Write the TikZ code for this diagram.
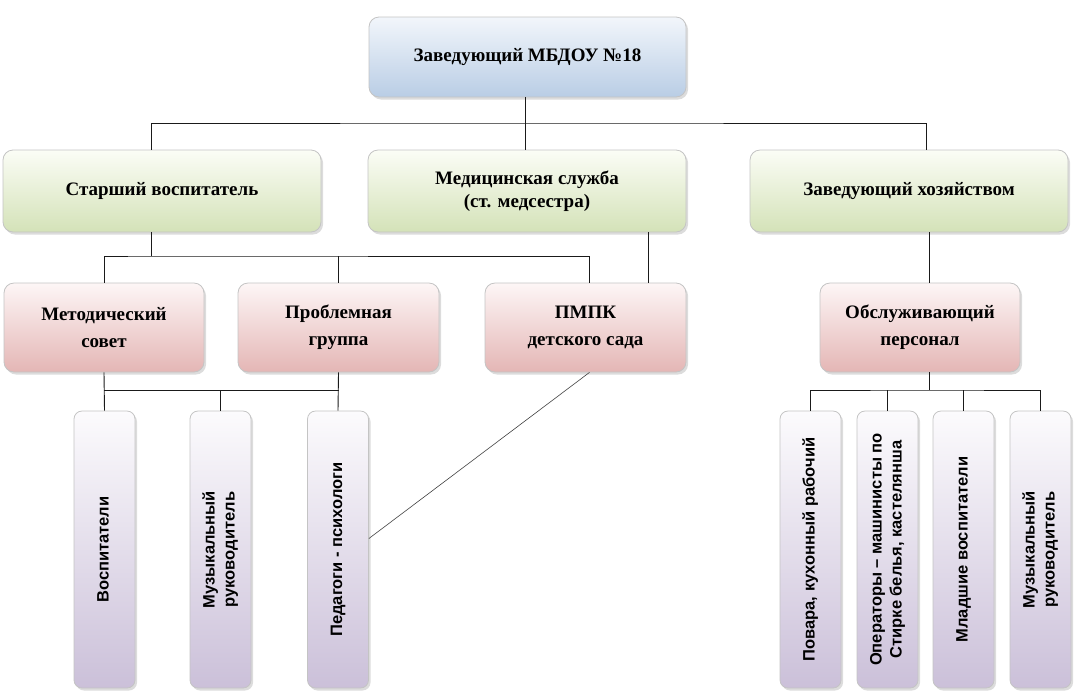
\documentclass[tikz,border=0pt]{standalone}
\usepackage{fontspec}
\setmainfont{Liberation Serif}
\newfontfamily\arialfont{Liberation Sans}
\usetikzlibrary{shadows,calc}
\definecolor{bluetop}{HTML}{F2F6FB}
\definecolor{bluebot}{HTML}{B9CDE5}
\definecolor{greentop}{HTML}{FBFDF6}
\definecolor{greenbot}{HTML}{D4E2B8}
\definecolor{pinktop}{HTML}{FDF6F6}
\definecolor{pinkbot}{HTML}{E4B6B5}
\definecolor{purptop}{HTML}{FCFBFD}
\definecolor{purpbot}{HTML}{CBC0D9}
\definecolor{boxline}{HTML}{C4C4C4}
\definecolor{conn}{HTML}{1A1A1A}
\tikzset{
  basebox/.style={draw=boxline, line width=0.8pt, rounded corners=10pt, inner sep=0pt,
    align=center, font=\fontsize{19}{27}\selectfont\bfseries,
    drop shadow={shadow xshift=2pt, shadow yshift=-2.5pt, fill=black!30, opacity=0.45}},
  bluebox/.style={basebox, top color=bluetop, bottom color=bluebot},
  greenbox/.style={basebox, top color=greentop, bottom color=greenbot},
  pinkbox/.style={basebox, top color=pinktop, bottom color=pinkbot},
  vbox/.style={basebox, top color=purptop, bottom color=purpbot, rounded corners=8pt,
    minimum width=61pt, minimum height=277pt, font=\arialfont\fontsize{16.5}{20}\selectfont\bfseries},
  wire/.style={draw=conn, line width=0.9pt},
  thinwire/.style={draw=black!75, line width=0.6pt},
}
\newcommand{\vtext}[1]{\rotatebox{90}{\begin{tabular}{@{}c@{}}#1\end{tabular}}}
\begin{document}
\begin{tikzpicture}[x=1pt,y=-1pt]
\useasboundingbox (0,0) rectangle (1078,697);
% row 1
\node[bluebox, minimum width=317pt, minimum height=80pt] (top) at (527.5,57) {Заведующий МБДОУ №18};
% row 2
\node[greenbox, minimum width=318pt, minimum height=82pt] (st) at (162,191) {Старший воспитатель};
\node[greenbox, minimum width=318pt, minimum height=82pt, font=\fontsize{19}{23}\selectfont\bfseries] (med) at (527,191) {Медицинская служба\\(ст. медсестра)};
\node[greenbox, minimum width=318pt, minimum height=82pt] (zh) at (909,191) {Заведующий хозяйством};
% row 3
\node[pinkbox, minimum width=200pt, minimum height=89pt] (met) at (104,327.5) {Методический\\совет};
\node[pinkbox, minimum width=201pt, minimum height=89pt] (pg) at (338.5,327.5) {Проблемная\\группа};
\node[pinkbox, minimum width=201pt, minimum height=89pt] (ppmk) at (585.5,327.5) {ПМПК\\детского сада};
\node[pinkbox, minimum width=200pt, minimum height=89pt] (ob) at (920,327.5) {Обслуживающий\\персонал};
% row 4
\node[vbox] (vos) at (104.5,549.5) {\vtext{Воспитатели}};
\node[vbox] (muz) at (220.5,549.5) {\vtext{Музыкальный\\руководитель}};
\node[vbox] (ped) at (338,549.5) {\vtext{Педагоги - психологи}};
\node[vbox] (pov) at (810.5,549.5) {\vtext{Повара, кухонный рабочий}};
\node[vbox] (opr) at (887.5,549.5) {\vtext{Операторы – машинисты по\\Стирке белья, кастелянша}};
\node[vbox] (mld) at (963.5,549.5) {\vtext{Младшие воспитатели}};
\node[vbox] (muz2) at (1040.5,549.5) {\vtext{Музыкальный\\руководитель}};
% junction points
\coordinate (j1) at (525,123);
\coordinate (j2) at (151,256);
\coordinate (j3) at (221,390);
\coordinate (j4) at (929,390);
% connectors
\draw[wire] (top.south -| j1) -- (med.north -| j1);
\draw[wire] (st.north -| 151,0) |- (j1) -| ([xshift=17pt]zh.north);
\draw[wire] (st.south -| j2) -- (j2);
\draw[wire] (met.north) |- (j2) -| ([xshift=3.5pt]ppmk.north);
\draw[wire] (pg.north) -- (pg.north |- j2);
\draw[wire] ([xshift=63pt]ppmk.north) -- ([xshift=63pt]ppmk.north |- med.south);
\draw[wire] ([xshift=20pt]zh.south) -- ([xshift=9pt]ob.north);
\draw[wire] (met.south) -- (vos.north);
\draw[wire] (pg.south) -- (ped.north);
\draw[wire] (met.south |- j3) -- (pg.south |- j3);
\draw[wire] (muz.north) -- (muz.north |- j3);
\draw[wire] ([xshift=9pt]ob.south) -- (j4);
\draw[wire] (pov.north) |- (j4) -| (muz2.north);
\draw[wire] (opr.north) -- (opr.north |- j4);
\draw[wire] (mld.north) -- (mld.north |- j4);
\draw[thinwire] ([xshift=4pt]ppmk.south) -- ([yshift=11pt]ped.east);
\end{tikzpicture}
\end{document}
